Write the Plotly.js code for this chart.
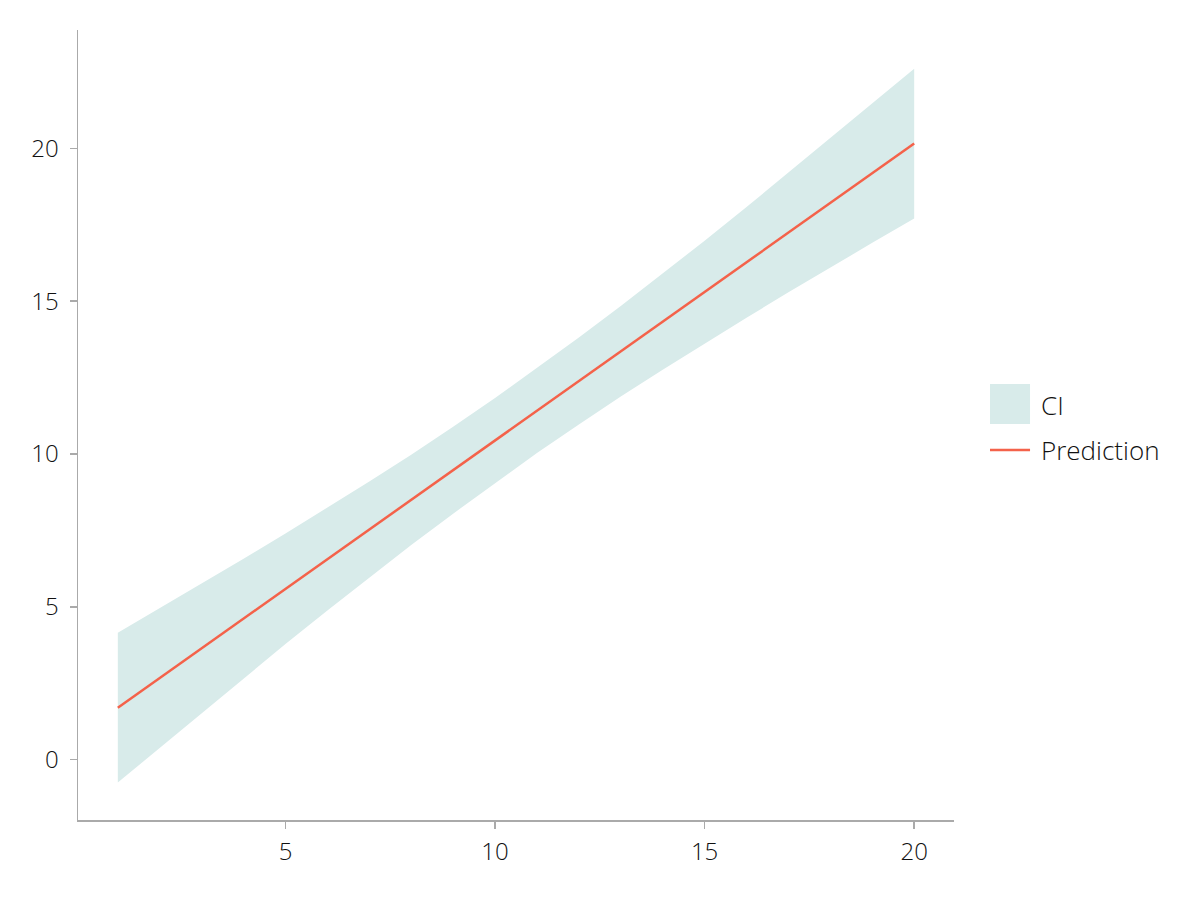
<!DOCTYPE html>
<html>
<head>
<meta charset="utf-8">
<script src="https://cdn.plot.ly/plotly-3.0.1.min.js"></script>
<style>html,body{margin:0;padding:0;background:#fff;}#chart{width:1200px;height:900px;}</style>
</head>
<body>
<div id="chart"></div>
<script>
const xs = [1,2,3,4,5,6,7,8,9,10,11,12,13,14,15,16,17,18,19,20];
const prediction = [1.70,2.67,3.64,4.61,5.59,6.56,7.53,8.50,9.47,10.44,11.42,12.39,13.36,14.33,15.30,16.27,17.25,18.22,19.19,20.16];
const ciUpper = [4.15,4.95,5.75,6.57,7.40,8.24,9.10,9.98,10.89,11.83,12.81,13.81,14.84,15.90,16.98,18.08,19.21,20.33,21.47,22.61];
const ciLower = [-0.75,0.39,1.53,2.65,3.78,4.88,5.96,7.02,8.05,9.05,10.03,10.97,11.88,12.76,13.62,14.46,15.29,16.11,16.91,17.71];
const xTicks = [5,10,15,20];
const yTicks = [0,5,10,15,20];
const legendLabels = ['CI', 'Prediction'];

const FONT = "'Open Sans', 'Noto Sans', sans-serif";
const bandColor = '#d8ebea';
const lineColor = '#f4624a';
const textColor = '#111111';

const traces = [
  {x: xs, y: ciLower, type: 'scatter', mode: 'lines', line: {width: 0, color: bandColor},
   showlegend: false, hoverinfo: 'skip'},
  {x: xs, y: ciUpper, type: 'scatter', mode: 'lines', fill: 'tonexty', fillcolor: bandColor,
   line: {width: 0, color: bandColor}, name: legendLabels[0], showlegend: false},
  {x: xs, y: prediction, type: 'scatter', mode: 'lines', line: {width: 2.5, color: lineColor},
   name: legendLabels[1], showlegend: false}
];

const axisCommon = {
  showgrid: false, zeroline: false, showline: true, linecolor: '#aaaaaa', linewidth: 1.5,
  ticks: 'outside', ticklen: 7, tickwidth: 1.5, tickcolor: '#aaaaaa',
  tickfont: {family: FONT, size: 24, color: textColor, weight: 300}
};

// custom legend (paper coordinates)
const legX0 = 1.0411, legX1 = 1.0868, legTextX = 1.0970;
const shapes = [
  {type: 'rect', xref: 'paper', yref: 'paper', x0: legX0, x1: legX1, y0: 0.5013, y1: 0.5519,
   fillcolor: bandColor, line: {width: 0}},
  {type: 'line', xref: 'paper', yref: 'paper', x0: legX0, x1: legX1, y0: 0.4684, y1: 0.4684,
   line: {color: lineColor, width: 2.5}}
];
const annotations = [
  {xref: 'paper', yref: 'paper', x: legTextX, y: 0.5253, xanchor: 'left', yanchor: 'middle',
   text: legendLabels[0], showarrow: false, font: {family: FONT, size: 26, color: textColor, weight: 300}},
  {xref: 'paper', yref: 'paper', x: legTextX, y: 0.4684, xanchor: 'left', yanchor: 'middle',
   text: legendLabels[1], showarrow: false, font: {family: FONT, size: 26, color: textColor, weight: 300}}
];

const layout = {
  width: 1200, height: 900,
  paper_bgcolor: '#fff', plot_bgcolor: '#fff',
  margin: {l: 78, r: 246, t: 30, b: 80},
  font: {family: FONT, color: textColor},
  xaxis: Object.assign({}, axisCommon, {range: [0.05, 20.95], tickmode: 'array', tickvals: xTicks, ticktext: xTicks.map(String), ticklabelstandoff: 3}),
  yaxis: Object.assign({}, axisCommon, {range: [-1.975, 23.875], tickmode: 'array', tickvals: yTicks, ticktext: yTicks.map(String), ticklabelstandoff: 6}),
  shapes: shapes,
  annotations: annotations,
  showlegend: false
};

Plotly.newPlot('chart', traces, layout, {displayModeBar: false, staticPlot: true});
</script>
</body>
</html>
